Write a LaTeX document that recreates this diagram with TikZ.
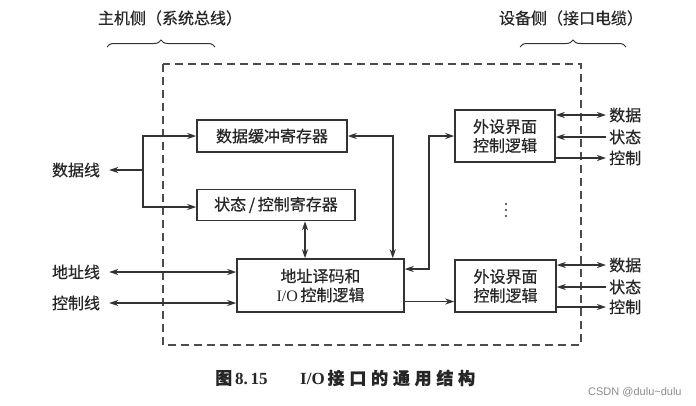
\documentclass[tikz,border=0pt]{standalone}
\usepackage{fontspec}
\setmainfont{Noto Sans CJK SC}[FakeBold=0.4]
\newfontfamily\latf{Liberation Serif}
\newfontfamily\wmf{Liberation Sans}
\usetikzlibrary{arrows.meta,decorations.pathreplacing,calc}
\begin{document}
\begin{tikzpicture}[x=1pt,y=-1pt,
  txt/.style={font=\fontsize{16}{19}\selectfont, text=black!85, inner sep=1pt},
  box/.style={draw=black!80, line width=1.5pt, txt, align=center, inner sep=0pt},
  ln/.style={draw=black!80, line width=1.5pt},
  arr/.style={ln, -{Stealth[length=9pt,width=6pt]}},
  darr/.style={ln, {Stealth[length=9pt,width=6pt]}-{Stealth[length=9pt,width=6pt]}},
  brc/.style={draw=black!80, line width=1pt, decorate, decoration={brace, amplitude=7pt}},
  lab/.style={txt, anchor=west},
  capf/.style={font=\bfseries\fontsize{17}{20}\selectfont, text=black!85, inner sep=0pt, anchor=west}]
\fill[white] (0,0) rectangle (696,405);
\useasboundingbox (0,0) rectangle (696,405);

% titles and braces
\node[txt] (th) at (170,18) {主机侧（系统总线）};
\node[txt] (td) at (571,18) {设备侧（接口电缆）};
\draw[brc] (107,47) -- (215,47);
\draw[brc] (520,47) -- (626,47);

% dashed frame
\draw[draw=black!70, line width=1.3pt, dash pattern=on 8pt off 5pt] (163,64) rectangle (581,345);

% boxes
\node[box, minimum width=150, minimum height=32] (b1) at (272,136) {数据缓冲寄存器};
\node[box, minimum width=158, minimum height=31] (b2) at (276,205) {状态\,/\,控制寄存器};
\node[box, minimum width=167, minimum height=53] (ad) at (320.5,285.5) {地址译码和\\{\latf I/O}\,控制逻辑};
\node[box, minimum width=100, minimum height=52] (p1) at (505,136) {外设界面\\控制逻辑};
\node[box, minimum width=101, minimum height=52] (p2) at (505.5,286) {外设界面\\控制逻辑};

% left labels
\node[txt] (dl) at (76,170) {数据线};
\node[txt] (al) at (76,272) {地址线};
\node[txt] (cl) at (76,303) {控制线};

% right labels
\node[lab] (d1) at (608,115) {数据};
\node[lab] (s1) at (608,137) {状态};
\node[lab] (c1) at (608,158) {控制};
\node[lab] (d2) at (608,265) {数据};
\node[lab] (s2) at (608,287) {状态};
\node[lab] (c2) at (608,307) {控制};

% vertical dots
\foreach \yy in {204,210,216} \fill[black!80] (506,\yy) circle (1.2pt);

% left connectors
\coordinate (j) at (143,170);
\draw[arr] (j) -- ([xshift=8pt]dl.east);
\draw[arr] (j) |- (b1.west);
\draw[arr] (j) |- ([yshift=-2pt]b2.west);
\draw[darr] ([xshift=8pt]al.east) -- (ad.west |- al.east);
\draw[darr] ([xshift=8pt]cl.east) -- (ad.west |- cl.east);

% internal connectors
\draw[darr] ([xshift=29pt]b2.south) -- ([xshift=29pt]b2.south |- ad.north);
\draw[darr] (b1.east) -| ([xshift=-12pt]ad.north east);
\draw[darr] ([yshift=16.5pt]ad.east) -- ++(24,0) |- (p1.west);
\draw[arr] ([yshift=-16pt]ad.east) -- ([yshift=-16pt]ad.east -| p2.west);

% right connectors
\draw[darr] (p1.east |- d1.west) -- ([xshift=-2pt]d1.west);
\draw[arr] ([xshift=-2pt]s1.west) -- (p1.east |- s1.west);
\draw[arr] (p1.east |- c1.west) -- ([xshift=-2pt]c1.west);
\draw[darr] (p2.east |- d2.west) -- ([xshift=-2pt]d2.west);
\draw[arr] ([xshift=-2pt]s2.west) -- (p2.east |- s2.west);
\draw[arr] (p2.east |- c2.west) -- ([xshift=-2pt]c2.west);

% caption and watermark
\node[capf] (cap1) at (215,378) {图\,{\latf\bfseries 8.\,15}};
\node[capf] (cap2) at (300,378) {{\latf\bfseries I/O}\,\addfontfeatures{LetterSpace=28}接口的通用结构};
\node[font=\wmf\fontsize{11}{13}\selectfont, text=black!45, anchor=west, inner sep=0pt] (wm) at (588,392) {CSDN @dulu\textasciitilde dulu};
\end{tikzpicture}
\end{document}
